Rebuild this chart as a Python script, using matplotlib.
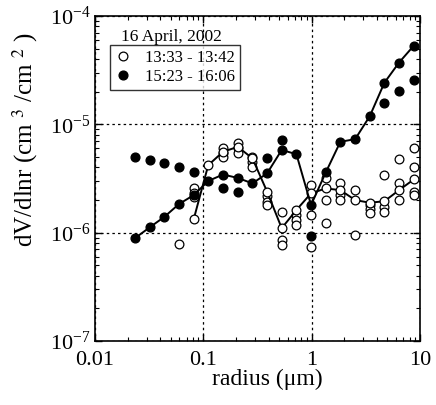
import numpy as np
import matplotlib
matplotlib.use("Agg")
import matplotlib.pyplot as plt
from matplotlib.ticker import LogLocator, NullFormatter, LogFormatterMathtext, FixedLocator, FixedFormatter

plt.rcParams['font.family'] = ['Liberation Serif', 'DejaVu Serif']
plt.rcParams['mathtext.fontset'] = 'stix'

nan = np.nan
radius = [0.0234, 0.0320, 0.0437, 0.0597, 0.0815, 0.111, 0.152, 0.208, 0.284, 0.388,
          0.529, 0.723, 0.987, 1.35, 1.84, 2.52, 3.44, 4.69, 6.41, 8.76]

# 15:23 - 16:06 (filled), scan with line
filled_line = [8.9e-7, 1.12e-6, 1.40e-6, 1.84e-6, 2.22e-6, 3.0e-6, 3.44e-6, 3.2e-6, 2.85e-6, 3.53e-6,
               5.8e-6, 5.3e-6, 1.8e-6, 3.6e-6, 6.9e-6, 7.3e-6, 1.19e-5, 2.42e-5, 3.72e-5, 5.32e-5]
# 15:23 - 16:06 (filled), other scan
filled_pts = [5.0e-6, 4.68e-6, 4.42e-6, 4.06e-6, 3.6e-6, nan, 2.56e-6, 2.35e-6, nan, 4.85e-6,
              7.2e-6, nan, 9.3e-7, nan, nan, nan, nan, 1.58e-5, 2.03e-5, 2.55e-5]

# 13:33 - 13:42 (open), scan with line
open_line = [nan, nan, nan, nan, 1.33e-6, 4.2e-6, 5.58e-6, 6.2e-6, 4.85e-6, 2.39e-6,
             1.1e-6, 1.62e-6, 2.31e-6, 2.56e-6, 2.47e-6, 2.0e-6, 1.89e-6, 1.95e-6, 2.47e-6, 3.1e-6]
# 13:33 - 13:42 (open), other scans
open_a = [nan, nan, nan, 7.85e-7, 2.58e-6, nan, 6.0e-6, 6.7e-6, 5.0e-6, 2.16e-6,
          1.56e-6, 1.46e-6, 2.75e-6, 3.17e-6, 2.85e-6, 2.47e-6, 1.80e-6, 3.4e-6, 4.75e-6, 6.0e-6]
open_b = [nan, nan, nan, nan, 2.31e-6, nan, 5.4e-6, 6.0e-6, 4.5e-6, 1.93e-6,
          8.55e-7, 1.31e-6, 1.46e-6, 2.0e-6, 2.22e-6, 9.5e-7, 1.66e-6, 1.73e-6, 2.85e-6, 4.06e-6]
open_c = [nan, nan, nan, nan, 2.13e-6, nan, 5.0e-6, 5.4e-6, 4.06e-6, 1.80e-6,
          7.68e-7, 1.18e-6, 7.4e-7, 1.22e-6, 2.0e-6, nan, 1.52e-6, 1.56e-6, 2.0e-6, 2.39e-6]
open_d = [nan]*18 + [nan, 2.22e-6]

fig = plt.figure(figsize=(4.36, 4.05), dpi=100)
ax = fig.add_axes([95/436, 1-341/405, 325/436, 325/405])

ms = 6.3
kw_open = dict(marker='o', mfc='white', mec='black', mew=0.9, ms=ms, linestyle='none')
kw_fill = dict(marker='o', mfc='black', mec='black', ms=ms, linestyle='none')

for s in (open_a, open_b, open_c, open_d):
    ax.plot(radius, s, **kw_open)
ax.plot(radius, open_line, color='black', lw=1.4, marker='o', mfc='white', mec='black', mew=0.9, ms=ms)
ax.plot(radius, filled_pts, **kw_fill)
ax.plot(radius, filled_line, color='black', lw=1.4, marker='o', mfc='black', mec='black', ms=ms)

ax.set_xscale('log')
ax.set_yscale('log')
ax.set_xlim(0.01, 10)
ax.set_ylim(1e-7, 1e-4)

ax.xaxis.set_major_locator(FixedLocator([0.01, 0.1, 1, 10]))
ax.xaxis.set_major_formatter(FixedFormatter(['0.01', '0.1', '1', '10']))
ax.xaxis.set_minor_locator(LogLocator(base=10, subs=np.arange(2, 10), numticks=20))
ax.xaxis.set_minor_formatter(NullFormatter())
ax.yaxis.set_major_locator(LogLocator(base=10, numticks=10))
ax.yaxis.set_major_formatter(LogFormatterMathtext())
ax.yaxis.set_minor_locator(LogLocator(base=10, subs=np.arange(2, 10), numticks=20))
ax.yaxis.set_minor_formatter(NullFormatter())

ax.tick_params(which='both', direction='in', top=True, right=True, labelsize=16)
ax.tick_params(which='major', length=5, width=1)
ax.tick_params(which='minor', length=3, width=0.8)
ax.tick_params(axis='x', pad=7)
ax.tick_params(axis='y', pad=3)
for sp in ax.spines.values():
    sp.set_linewidth(1.2)

ax.grid(True, which='major', color='black', linestyle=(0, (2, 2.5)), linewidth=0.9)

ax.set_xlabel('radius (μm)', fontsize=17)
ax.xaxis.set_label_coords(0.53, -0.085)
ax.set_ylabel('dV/dlnr (cm $^3$ /cm $^2$ )', fontsize=18)
ax.yaxis.set_label_coords(-0.17, 0.62)

ax.text(0.08, 0.96, '16 April, 2002', transform=ax.transAxes, fontsize=12.5, va='top', ha='left')
h1, = ax.plot([], [], **kw_open)
h2, = ax.plot([], [], **kw_fill)
leg = ax.legend([h1, h2], ['13:33 - 13:42', '15:23 - 16:06'], loc='upper left',
                bbox_to_anchor=(0.045, 0.912), fontsize=12, frameon=True, fancybox=False,
                edgecolor='black', handlelength=1.0, handletextpad=0.8, borderpad=0.3,
                labelspacing=0.2, borderaxespad=0)
leg.get_frame().set_linewidth(1.0)

fig.savefig('out.png', dpi=100)
